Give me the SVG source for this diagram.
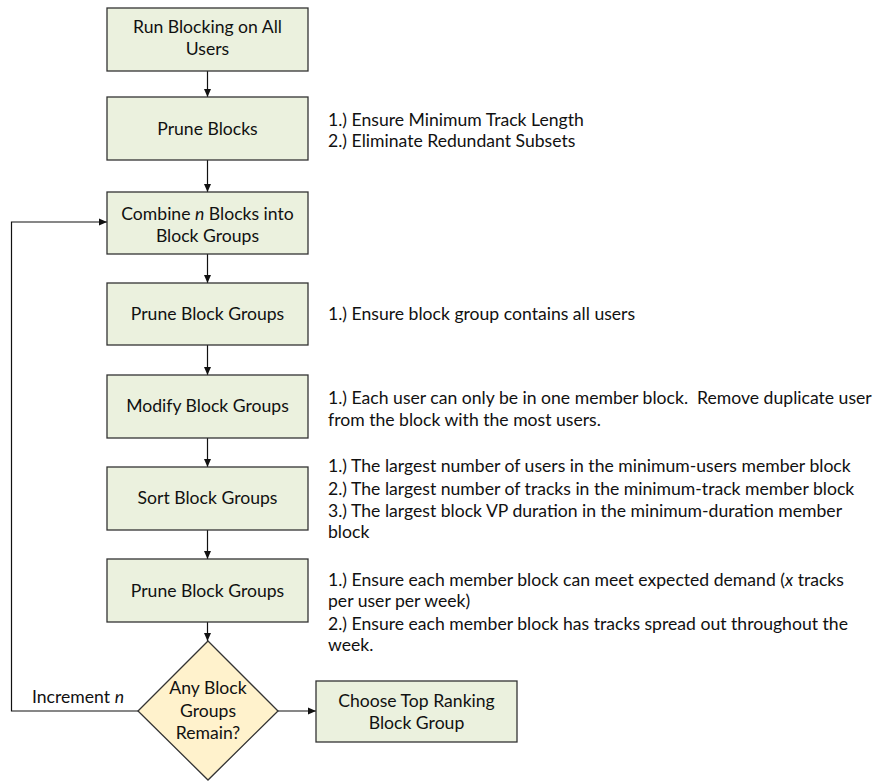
<svg xmlns="http://www.w3.org/2000/svg" width="891" height="781" viewBox="0 0 891 781">
<style>
.box{fill:#EBF1DE;stroke:#333;stroke-width:1.3}
.dia{fill:#FFF2CC;stroke:#333;stroke-width:1.3}
.t{font-family:Lato,"Liberation Sans",sans-serif;font-size:17.6px;fill:#111;white-space:pre}
.c{text-anchor:middle}
.ln{fill:none;stroke:#111;stroke-width:1.2}
</style>
<defs>
<marker id="ah" viewBox="0 0 8 8" refX="8" refY="4" markerWidth="8" markerHeight="8" markerUnits="userSpaceOnUse" orient="auto">
<path d="M0,0.5 L8,4 L0,7.5 Z" fill="#111"/>
</marker>
</defs>
<rect width="891" height="781" fill="#fff"/>
<g id="connectors">
<line class="ln" x1="207.5" y1="71" x2="207.5" y2="97" marker-end="url(#ah)"/>
<line class="ln" x1="207.5" y1="160" x2="207.5" y2="192" marker-end="url(#ah)"/>
<line class="ln" x1="207.5" y1="254" x2="207.5" y2="283" marker-end="url(#ah)"/>
<line class="ln" x1="207.5" y1="345" x2="207.5" y2="375" marker-end="url(#ah)"/>
<line class="ln" x1="207.5" y1="438" x2="207.5" y2="467" marker-end="url(#ah)"/>
<line class="ln" x1="207.5" y1="530" x2="207.5" y2="559" marker-end="url(#ah)"/>
<line class="ln" x1="207.5" y1="622" x2="207.5" y2="641" marker-end="url(#ah)"/>
<line class="ln" x1="278" y1="711" x2="316" y2="711" marker-end="url(#ah)"/>
<polyline class="ln" points="138,711 11.5,711 11.5,222 107,222" marker-end="url(#ah)"/>
<text class="t" x="32" y="703">Increment <tspan font-style="italic">n</tspan></text>
</g>
<g id="n1"><rect class="box" x="107" y="8" width="201" height="63"/>
<text class="t c" x="207.5" y="33">Run Blocking on All</text><text class="t c" x="207.5" y="55">Users</text></g>
<g id="n2"><rect class="box" x="107" y="97" width="201" height="63"/>
<text class="t c" x="207.5" y="135">Prune Blocks</text></g>
<g id="n3"><rect class="box" x="107" y="192" width="201" height="62"/>
<text class="t c" x="207.5" y="220">Combine <tspan font-style="italic">n</tspan> Blocks into</text><text class="t c" x="207.5" y="242">Block Groups</text></g>
<g id="n4"><rect class="box" x="107" y="283" width="201" height="62"/>
<text class="t c" x="207.5" y="320">Prune Block Groups</text></g>
<g id="n5"><rect class="box" x="107" y="375" width="201" height="63"/>
<text class="t c" x="207.5" y="412">Modify Block Groups</text></g>
<g id="n6"><rect class="box" x="107" y="467" width="201" height="63"/>
<text class="t c" x="207.5" y="504">Sort Block Groups</text></g>
<g id="n7"><rect class="box" x="107" y="559" width="201" height="63"/>
<text class="t c" x="207.5" y="597">Prune Block Groups</text></g>
<g id="n8"><polygon class="dia" points="208,641 278,711 208,780 138,711"/>
<text class="t c" x="208" y="694">Any Block</text><text class="t c" x="208" y="717">Groups</text><text class="t c" x="208" y="739">Remain?</text></g>
<g id="n9"><rect class="box" x="316" y="681" width="201" height="61"/>
<text class="t c" x="416.5" y="707">Choose Top Ranking</text><text class="t c" x="416.5" y="729">Block Group</text></g>
<g id="notes">
<text class="t" x="328" y="126">1.) Ensure Minimum Track Length</text>
<text class="t" x="328" y="147">2.) Eliminate Redundant Subsets</text>
<text class="t" x="328" y="320">1.) Ensure block group contains all users</text>
<text class="t" x="328" y="404">1.) Each user can only be in one member block.  Remove duplicate user</text>
<text class="t" x="328" y="426">from the block with the most users.</text>
<text class="t" x="328" y="472">1.) The largest number of users in the minimum-users member block</text>
<text class="t" x="328" y="495">2.) The largest number of tracks in the minimum-track member block</text>
<text class="t" x="328" y="517">3.) The largest block VP duration in the minimum-duration member</text>
<text class="t" x="328" y="538">block</text>
<text class="t" x="328" y="586">1.) Ensure each member block can meet expected demand (<tspan font-style="italic">x</tspan> tracks</text>
<text class="t" x="328" y="607">per user per week)</text>
<text class="t" x="328" y="630">2.) Ensure each member block has tracks spread out throughout the</text>
<text class="t" x="328" y="651">week.</text>
</g>
</svg>
